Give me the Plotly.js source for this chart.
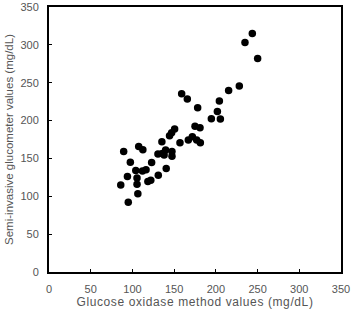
<!DOCTYPE html>
<html>
<head>
<meta charset="utf-8">
<script src="https://cdn.plot.ly/plotly-3.0.1.min.js"></script>
<style>html,body{margin:0;padding:0;background:#fff;}#chart{width:351px;height:309px;}
.xtitle{letter-spacing:0.6px;}
</style>
</head>
<body>
<div id="chart"></div>
<script>
// Glucose oxidase method values (mg/dL)
const xValues = [86, 89.5, 94, 95, 97.5, 104, 105.5, 105.5, 106.5, 107.5, 112.5, 112, 116.3, 118.5, 122, 123, 131, 130.6, 135.3, 135.8, 138, 139.8, 140.5, 144.5, 147, 147.4, 147.4, 150.6, 157, 159, 165.8, 167, 171.8, 175, 177, 178.2, 181, 181.4, 194.6, 201.8, 204.2, 205.4, 215.3, 228.1, 234.9, 243.7, 250.1];
// Semi-invasive glucometer values (mg/dL)
const yValues = [115, 159, 126, 92, 145, 134, 124, 116, 103.5, 165.6, 161.5, 133.5, 135.2, 119.5, 121.3, 144.7, 127.8, 156, 172, 156.5, 154.5, 161, 136.6, 180, 184, 159.2, 152.8, 188.8, 170.8, 235.4, 228.4, 174.4, 178.7, 192.4, 174.4, 217, 190.6, 170.8, 202.5, 212.1, 225.7, 202, 239.8, 245.5, 303, 314.9, 282];
const tickVals = [0, 50, 100, 150, 200, 250, 300, 350];
const tickText = ["0", "50", "100", "150", "200", "250", "300", "350"];

const trace = {
  x: xValues, y: yValues, type: 'scatter', mode: 'markers',
  marker: {color: '#000', size: 7.5},
  hoverinfo: 'skip'
};
const axisCommon = {
  range: [0, 350], tickmode: 'array', tickvals: tickVals, ticktext: tickText,
  showgrid: false, zeroline: false, showline: true, mirror: true,
  linecolor: '#000', linewidth: 2, ticks: 'inside', ticklen: 3, tickcolor: '#000', tickwidth: 1,
  tickfont: {family: 'Liberation Sans, Arial, sans-serif', size: 11, color: '#555'},
  fixedrange: true
};
const layout = {
  width: 351, height: 309,
  margin: {l: 49, r: 10, t: 7, b: 37},
  paper_bgcolor: '#fff', plot_bgcolor: '#fff',
  showlegend: false,
  xaxis: Object.assign({}, axisCommon, {
    title: {text: 'Glucose oxidase method values (mg/dL)', standoff: 3,
      font: {family: 'Liberation Sans, Arial, sans-serif', size: 12, color: '#555'}},
    ticklabelstandoff: 6
  }),
  yaxis: Object.assign({}, axisCommon, {
    title: {text: 'Semi-invasive glucometer values (mg/dL)', standoff: 4,
      font: {family: 'Liberation Sans, Arial, sans-serif', size: 11.5, color: '#555'}},
    ticklabelstandoff: 6
  })
};
Plotly.newPlot('chart', [trace], layout, {displayModeBar: false, staticPlot: true});
</script>
</body>
</html>
